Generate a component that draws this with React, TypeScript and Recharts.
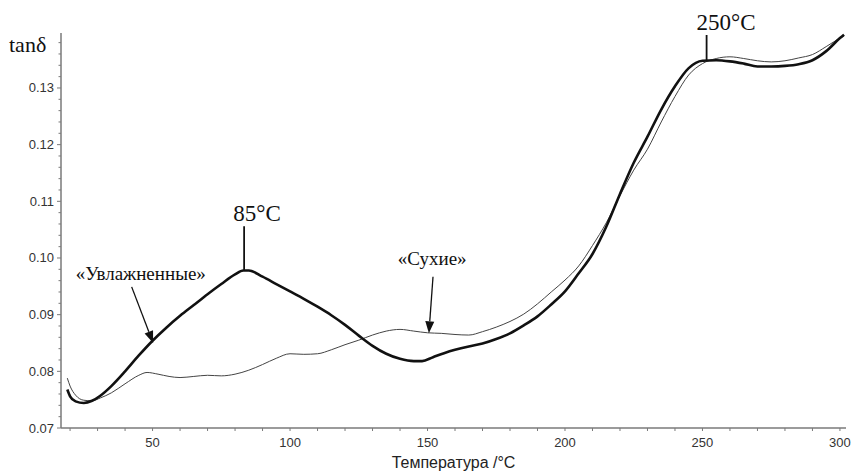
import React from 'react';
import {
  LineChart,
  Line,
  XAxis,
  YAxis,
  ReferenceLine,
  ReferenceDot,
} from 'recharts';

// "Увлажненные" (wet) – thick curve
const wetTemp = [19, 20, 22, 25, 28, 31, 35, 40, 45, 50, 55, 60, 65, 70, 75, 80, 83, 85, 90, 95, 100, 105, 110, 115, 120, 125, 130, 135, 140, 145, 148, 152, 156, 160, 165, 170, 175, 180, 185, 190, 195, 200, 205, 210, 215, 220, 225, 230, 235, 240, 245, 250, 255, 260, 265, 270, 275, 280, 285, 290, 295, 300, 301.5];
const wetTan = [0.0768, 0.0756, 0.0747, 0.0744, 0.0748, 0.0757, 0.0774, 0.0800, 0.0828, 0.0854, 0.0877, 0.0898, 0.0917, 0.0936, 0.0954, 0.0971, 0.0978, 0.0978, 0.0967, 0.0954, 0.0941, 0.0928, 0.0914, 0.0899, 0.0882, 0.0863, 0.0845, 0.0831, 0.0822, 0.0818, 0.0818, 0.0825, 0.0832, 0.0838, 0.0844, 0.0849, 0.0857, 0.0867, 0.0881, 0.0897, 0.0918, 0.0941, 0.0973, 0.1007, 0.1055, 0.1113, 0.1168, 0.1214, 0.1262, 0.1303, 0.1335, 0.1348, 0.1349, 0.1347, 0.1343, 0.1338, 0.1338, 0.1339, 0.1342, 0.1349, 0.1365, 0.1388, 0.1394];

// "Сухие" (dry) – thin curve
const dryTemp = [19, 20, 22, 25, 28, 31, 35, 40, 45, 48, 52, 56, 60, 65, 70, 75, 80, 85, 90, 95, 100, 105, 110, 115, 120, 125, 130, 135, 140, 145, 150, 155, 160, 165, 170, 175, 180, 185, 190, 195, 200, 205, 210, 215, 220, 225, 230, 235, 240, 245, 250, 255, 260, 265, 270, 275, 280, 285, 290, 295, 300, 301.5];
const dryTan = [0.0788, 0.0774, 0.0758, 0.0749, 0.0748, 0.0753, 0.0762, 0.0778, 0.0793, 0.0798, 0.0795, 0.0791, 0.0789, 0.0791, 0.0793, 0.0792, 0.0795, 0.0802, 0.0812, 0.0823, 0.0831, 0.0830, 0.0831, 0.0838, 0.0847, 0.0855, 0.0864, 0.0871, 0.0874, 0.0871, 0.0868, 0.0867, 0.0865, 0.0864, 0.0870, 0.0878, 0.0888, 0.0901, 0.0919, 0.0940, 0.0961, 0.0986, 0.1022, 0.1062, 0.1110, 0.1155, 0.1192, 0.1240, 0.1285, 0.1323, 0.1343, 0.1352, 0.1355, 0.1352, 0.1348, 0.1346, 0.1348, 0.1353, 0.1359, 0.1373, 0.1388, 0.1392];

const xTicks = [20, 30, 40, 50, 60, 70, 80, 90, 100, 110, 120, 130, 140, 150, 160, 170, 180, 190, 200, 210, 220, 230, 240, 250, 260, 270, 280, 290, 300];
const xLabels = [50, 100, 150, 200, 250, 300];
const yTicks = [0.07, 0.072, 0.074, 0.076, 0.078, 0.08, 0.082, 0.084, 0.086, 0.088, 0.09, 0.092, 0.094, 0.096, 0.098, 0.1, 0.102, 0.104, 0.106, 0.108, 0.11, 0.112, 0.114, 0.116, 0.118, 0.12, 0.122, 0.124, 0.126, 0.128, 0.13, 0.132, 0.134, 0.136, 0.138];
const yLabels = ['0.07', '0.08', '0.09', '0.10', '0.11', '0.12', '0.13'];

const wetData = wetTemp.map((t, i) => ({ t, v: wetTan[i] }));
const dryData = dryTemp.map((t, i) => ({ t, v: dryTan[i] }));

const AXIS = '#7a7a7a';
const SANS = '"Liberation Sans", Arial, sans-serif';
const SERIF = '"Liberation Serif", "Times New Roman", serif';

const XTick = ({ x, y, payload }: any) => {
  const show = xLabels.includes(payload.value);
  return (
    <g>
      <line x1={x} y1={y} x2={x} y2={y + 3} stroke={AXIS} strokeWidth={1} />
      {show && (
        <text x={x} y={y + 18.5} textAnchor="middle" fontSize={13} fontFamily={SANS} fill="#333">
          {payload.value}
        </text>
      )}
    </g>
  );
};

const YTick = ({ x, y, payload }: any) => {
  const label = yLabels.find((l) => Math.abs(parseFloat(l) - payload.value) < 1e-6);
  return (
    <g>
      <line x1={x - (label ? 4 : 2.5)} y1={y} x2={x} y2={y} stroke={AXIS} strokeWidth={1} />
      {label && (
        <text x={x - 7} y={y + 4.5} textAnchor="end" fontSize={13} fontFamily={SANS} fill="#333">
          {label}
        </text>
      )}
    </g>
  );
};

const Arrow = ({ x1, y1, x2, y2 }: any) => {
  const ang = Math.atan2(y2 - y1, x2 - x1);
  const len = 12;
  const w = 4.5;
  const bx = x2 - len * Math.cos(ang);
  const by = y2 - len * Math.sin(ang);
  const px = -Math.sin(ang) * w;
  const py = Math.cos(ang) * w;
  return (
    <g>
      <line x1={x1} y1={y1} x2={bx} y2={by} stroke="#111" strokeWidth={1.3} />
      <polygon points={`${x2},${y2} ${bx + px},${by + py} ${bx - px},${by - py}`} fill="#111" />
    </g>
  );
};

const Stick = ({ x1, y1, x2, y2 }: any) => (
  <line x1={x1} y1={y1} x2={x2} y2={y2} stroke="#111" strokeWidth={1.8} />
);

const note = (text: string, size: number) => (props: any) => (
  <text x={props.cx} y={props.cy} textAnchor="middle" fontSize={size} fontFamily={SERIF} fill="#111">
    {text}
  </text>
);

const TanLabel = (props: any) => {
  const vb = props.viewBox || {};
  return (
    <text x={9} y={(vb.y || 33) + 19} fontSize={22} fontFamily={SERIF} fill="#111">
      tanδ
    </text>
  );
};

export default function App() {
  return (
    <div style={{ width: 852, height: 472, background: '#fff' }}>
      <style>{'body{margin:0}'}</style>
      <LineChart width={852} height={472} margin={{ top: 33, right: 6, left: 0, bottom: 0 }}>
        <XAxis
          type="number"
          dataKey="t"
          domain={[16.7, 302.2]}
          ticks={xTicks}
          allowDataOverflow
          height={44}
          stroke={AXIS}
          strokeWidth={1.5}
          tickLine={false}
          tickSize={0}
          tickMargin={0}
          tick={<XTick />}
          interval={0}
          label={{ value: 'Температура /°C', position: 'insideBottom', offset: 4, fontSize: 16, fontFamily: SANS, fill: '#222' }}
        />
        <YAxis
          type="number"
          dataKey="v"
          domain={[0.07, 0.1397]}
          ticks={yTicks}
          allowDataOverflow
          width={61}
          stroke={AXIS}
          strokeWidth={1.5}
          tickLine={false}
          tickSize={0}
          tickMargin={0}
          tick={<YTick />}
          interval={0}
          label={<TanLabel />}
        />
        <Line data={dryData} dataKey="v" type="monotone" stroke="#444" strokeWidth={1} dot={false} isAnimationActive={false} />
        <Line data={wetData} dataKey="v" type="monotone" stroke="#111" strokeWidth={2.6} dot={false} isAnimationActive={false} />

        <ReferenceLine segment={[{ x: 83.3, y: 0.1056 }, { x: 83.3, y: 0.0979 }]} shape={<Stick />} ifOverflow="visible" />
        <ReferenceDot x={88} y={0.1065} r={0} ifOverflow="visible" shape={note('85°C', 23)} />

        <ReferenceLine segment={[{ x: 251.5, y: 0.13935 }, { x: 251.5, y: 0.1349 }]} shape={<Stick />} ifOverflow="visible" />
        <ReferenceDot x={258.6} y={0.1402} r={0} ifOverflow="visible" shape={note('250°C', 23)} />

        <ReferenceDot x={45.7} y={0.0961} r={0} ifOverflow="visible" shape={note('«Увлажненные»', 19)} />
        <ReferenceLine segment={[{ x: 42.4, y: 0.0949 }, { x: 50.2, y: 0.0850 }]} shape={<Arrow />} ifOverflow="visible" />

        <ReferenceDot x={151.7} y={0.0988} r={0} ifOverflow="visible" shape={note('«Сухие»', 19)} />
        <ReferenceLine segment={[{ x: 152, y: 0.0967 }, { x: 150.5, y: 0.0867 }]} shape={<Arrow />} ifOverflow="visible" />
      </LineChart>
    </div>
  );
}
